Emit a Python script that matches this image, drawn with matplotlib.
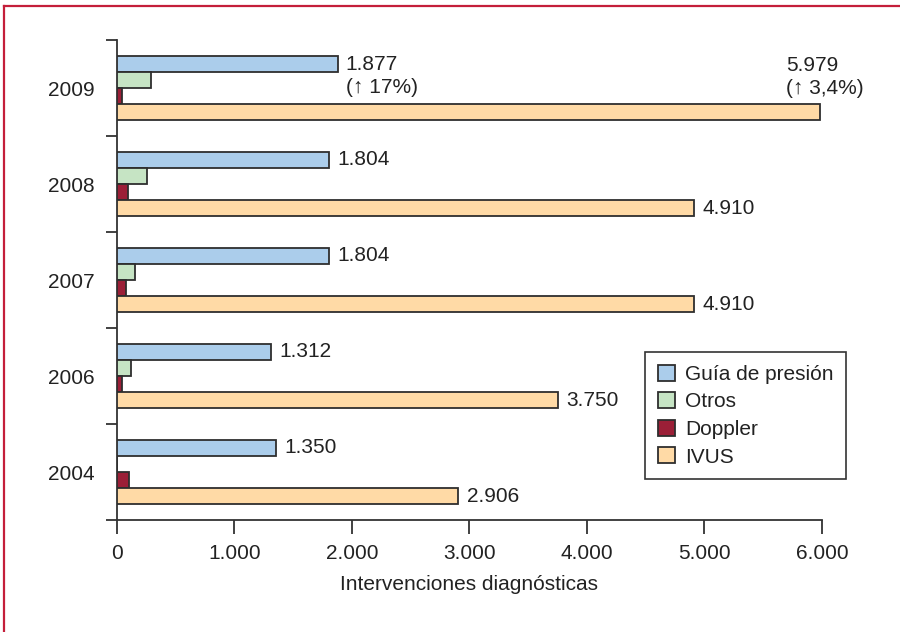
import numpy as np
import matplotlib
matplotlib.use('Agg')
import matplotlib.pyplot as plt
from matplotlib.lines import Line2D
from matplotlib.ticker import FuncFormatter, FixedLocator

plt.rcParams['font.family'] = ['Liberation Sans Narrow', 'Liberation Sans', 'DejaVu Sans']
plt.rcParams['font.size'] = 15

# Intervenciones diagnósticas por año
years = ['2009', '2008', '2007', '2006', '2004']
guia = [1877, 1804, 1804, 1312, 1350]
otros = [287, 253, 156, 116, 0]
doppler = [45, 96, 79, 45, 99]
ivus = [5979, 4910, 4910, 3750, 2906]
guia_pct = ['(↑ 17%)', '', '', '', '']
ivus_pct = ['(↑ 3,4%)', '', '', '', '']

series = [guia, otros, doppler, ivus]
names = ['Guía de presión', 'Otros', 'Doppler', 'IVUS']
colors = ['#abcdeb', '#c6e4c4', '#9b1f37', '#ffdaa6']
edge = '#2e2e2e'

def miles(v, pos=None):
    return '{:,}'.format(int(v)).replace(',', '.')

fig = plt.figure(figsize=(9, 6.32), dpi=100)
ax = fig.add_axes([0.13, 0.1772, 0.7833, 0.7595])

y = np.arange(len(years))
h = 0.167
for k, vals in enumerate(series):
    ax.barh(y + (k - 1.5) * h, vals, height=h, color=colors[k],
            edgecolor=edge, linewidth=1.3, label=names[k], zorder=3)

# etiquetas de valor
for i in range(len(years)):
    yb = y[i] - 1.5 * h
    yo = y[i] + 1.5 * h
    if guia_pct[i]:
        ax.annotate(miles(guia[i]) + '\n' + guia_pct[i], xy=(guia[i], yb - h / 2),
                    xytext=(6, 1), textcoords='offset points', ha='left', va='top',
                    linespacing=1.3, color='#222222')
    else:
        ax.annotate(miles(guia[i]), xy=(guia[i], yb), xytext=(6, 0),
                    textcoords='offset points', ha='left', va='center', color='#222222')
    if ivus_pct[i]:
        ax.annotate(miles(ivus[i]) + '\n' + ivus_pct[i], xy=(ivus[i], yo - h / 2),
                    xytext=(-24, 4), textcoords='offset points', ha='left', va='bottom',
                    linespacing=1.3, color='#222222')
    else:
        ax.annotate(miles(ivus[i]), xy=(ivus[i], yo), xytext=(6, 0),
                    textcoords='offset points', ha='left', va='center', color='#222222')

ax.set_xlim(0, 6000)
ax.set_ylim(len(years) - 0.5, -0.5)
ax.set_xticks(np.arange(0, 6001, 1000))
ax.xaxis.set_major_formatter(FuncFormatter(miles))
ax.set_yticks(y)
ax.set_yticklabels(years)
ax.yaxis.set_minor_locator(FixedLocator(np.arange(-0.5, len(years), 1.0)))

ax.tick_params(axis='y', which='major', length=0, pad=16, colors='#222222')
ax.tick_params(axis='y', which='minor', length=8, width=1.3, color='#333333')
ax.tick_params(axis='x', which='major', length=10, width=1.3, pad=7,
               color='#333333', labelcolor='#222222')

for s in ['top', 'right']:
    ax.spines[s].set_visible(False)
for s in ['left', 'bottom']:
    ax.spines[s].set_linewidth(1.3)
    ax.spines[s].set_color('#333333')

ax.set_xlabel('Intervenciones diagnósticas', fontsize=15, labelpad=9, color='#222222')

leg = ax.legend(loc='lower right', bbox_to_anchor=(0.94, 0.242), bbox_transform=fig.transFigure,
                borderaxespad=0, fancybox=False, edgecolor='#333333', handlelength=0.8,
                handleheight=0.8, handletextpad=0.5, labelspacing=0.4, borderpad=0.6,
                framealpha=1)
leg.get_frame().set_linewidth(1.2)
for t in leg.get_texts():
    t.set_color('#222222')

# marco rojo superior e izquierdo
red = '#c41e3a'
fig.add_artist(Line2D([0.0045, 1.0], [0.9905, 0.9905], color=red, linewidth=1.6,
                      transform=fig.transFigure))
fig.add_artist(Line2D([0.0045, 0.0045], [0.0, 0.9905], color=red, linewidth=1.6,
                      transform=fig.transFigure))

fig.savefig('out.png', dpi=100)
